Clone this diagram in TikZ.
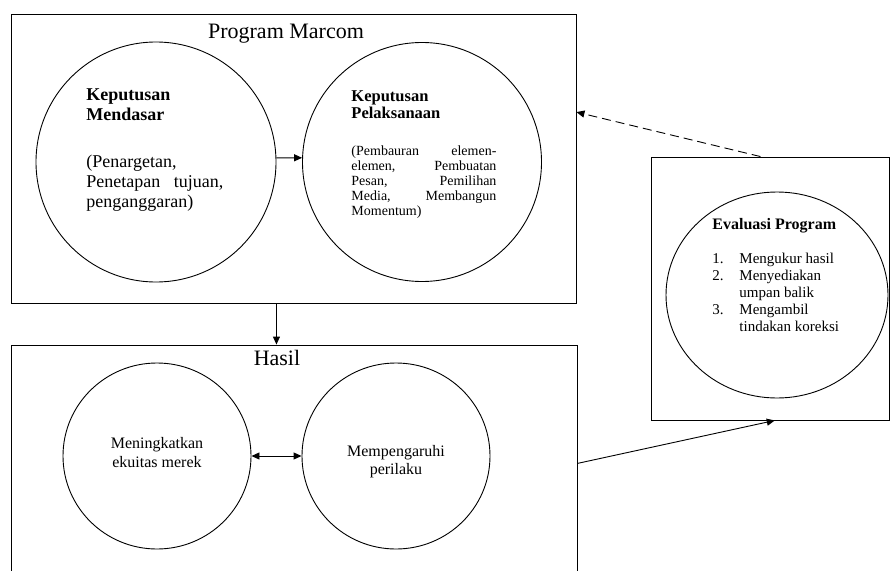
\documentclass[tikz,border=0pt]{standalone}
\usepackage{fontspec}
\setmainfont{Liberation Serif}
\usetikzlibrary{arrows.meta,shapes.geometric,calc}
\begin{document}
\begin{tikzpicture}[x=1pt,y=-1pt,line width=0.9pt,
  frame/.style={draw,rectangle,inner sep=0pt},
  circ/.style={draw,circle,inner sep=0pt},
  oval/.style={draw,ellipse,inner sep=0pt},
  arr/.style={-{Triangle[length=8pt,width=7pt]}},
  darr/.style={{Triangle[length=8pt,width=7pt]}-{Triangle[length=8pt,width=7pt]}},
  txt/.style={inner sep=0pt,anchor=base west},
  ctxt/.style={inner sep=0pt,anchor=base}]
\useasboundingbox (0,0) rectangle (891,570);
% frames
\node[frame,minimum width=565pt,minimum height=289pt] (b1) at (293.5,158.5) {};
\node[frame,minimum width=566pt,minimum height=265pt] (b2) at (294,477.5) {};
\node[frame,minimum width=238pt,minimum height=263pt] (b3) at (770,288.5) {};
% titles
\node[ctxt] (t0) at (286,38) {\fontsize{22}{24}\selectfont Program Marcom};
\node[ctxt] (th) at (277,365) {\fontsize{22}{24}\selectfont Hasil};
% circles
\node[circ,minimum size=240pt] (c1) at (156,162) {};
\node[circ,minimum size=239pt] (c2) at (422,162) {};
\node[oval,minimum width=188pt,minimum height=186pt] (c3) at (157,456) {};
\node[oval,minimum width=188pt,minimum height=186pt] (c4) at (396,456) {};
\node[oval,minimum width=222pt,minimum height=206pt] (c5) at (777,295) {};
% circle 1 text
\node[txt] (k1) at (86,100) {\parbox[t]{140pt}{\fontsize{18}{20}\selectfont\bfseries Keputusan\\Mendasar}};
\node[txt] (k1b) at (86,167) {\parbox[t]{137pt}{\fontsize{18}{20}\selectfont (Penargetan,\\\makebox[137pt][s]{Penetapan tujuan,}\\penganggaran)}};
% circle 2 text
\node[txt] (k2) at (351,101) {\parbox[t]{145pt}{\fontsize{16.5}{17.5}\selectfont\bfseries Keputusan\\Pelaksanaan}};
\node[txt] (k2b) at (351,155) {\parbox[t]{145pt}{\fontsize{14}{15}\selectfont
  \makebox[145pt][s]{(Pembauran elemen-}\\
  \makebox[145pt][s]{elemen, Pembuatan}\\
  \makebox[145pt][s]{Pesan, Pemilihan}\\
  \makebox[145pt][s]{Media, Membangun}\\
  Momentum)}};
% evaluation text
\node[txt] (ev) at (712,229) {\fontsize{16}{17}\selectfont\bfseries Evaluasi Program};
\node[txt] (evl) at (712,263) {\parbox[t]{160pt}{\fontsize{15}{17}\selectfont
  \makebox[27pt][l]{1.}Mengukur hasil\\
  \makebox[27pt][l]{2.}Menyediakan\\
  \hspace*{27pt}umpan balik\\
  \makebox[27pt][l]{3.}Mengambil\\
  \hspace*{27pt}tindakan koreksi}};
% hasil text
\node[ctxt] (h1) at (157,448) {\parbox[t]{150pt}{\centering\fontsize{16}{19}\selectfont Meningkatkan\\ekuitas merek}};
\node[ctxt] (h2) at (396,456) {\parbox[t]{150pt}{\centering\fontsize{16}{18}\selectfont Mempengaruhi\\perilaku}};
% connectors
\draw[arr] (c1.2) -- (c2.178);
\draw[arr] (b1.south -| c1.east) -- (b2.north -| c1.east);
\draw[darr] (c3.east) -- (c4.west);
\draw[arr,dash pattern=on 9pt off 5pt] ($(b3.north west)!0.46!(b3.north east)$) -- ($(b1.north east)!0.34!(b1.south east)$);
\draw[arr] ($(b2.north east)!0.447!(b2.south east)$) -- ($(b3.south west)!0.52!(b3.south east)$);
\end{tikzpicture}
\end{document}
